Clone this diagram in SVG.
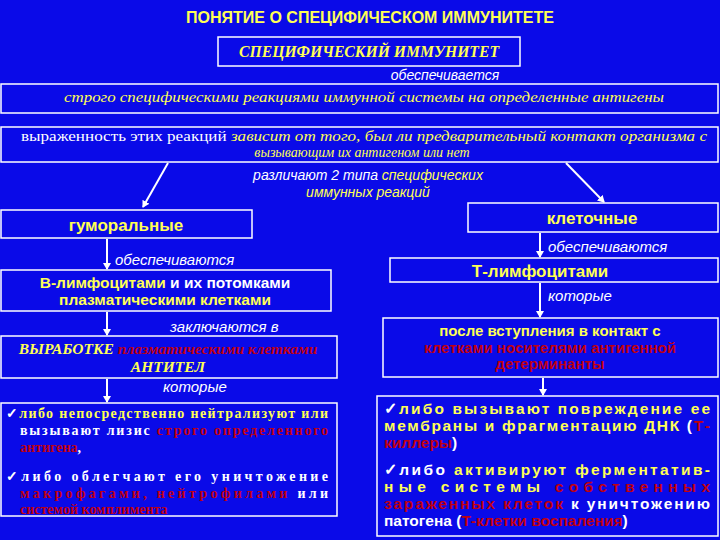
<svg xmlns="http://www.w3.org/2000/svg" width="720" height="540" viewBox="0 0 720 540">
<defs>
<marker id="ah" markerWidth="8" markerHeight="8" refX="6" refY="4" orient="auto" markerUnits="userSpaceOnUse"><path d="M0,0 L7,4 L0,8 Z" fill="#fff"/></marker>
<style>
.bx{fill:none;stroke:#fff;stroke-width:1.5}
.ln{stroke:#fff;stroke-width:2;fill:none;marker-end:url(#ah)}
.s{font-family:"Liberation Sans",Arial,sans-serif}
.r{font-family:"Liberation Serif","Times New Roman",serif}
.y{fill:#ffff55}.w{fill:#fff}.d{fill:#c00010}
.it{font-style:italic}.b{font-weight:bold}
</style>
</defs>
<rect width="720" height="540" fill="#0a0ae8"/>
<text class="s b y" x="370" y="23" font-size="16" text-anchor="middle">ПОНЯТИЕ О СПЕЦИФИЧЕСКОМ ИММУНИТЕТЕ</text>
<g id="n1"><rect class="bx" x="218" y="37" width="302" height="29"/><text class="r b it y" x="369" y="57" font-size="16" text-anchor="middle" textLength="260" lengthAdjust="spacingAndGlyphs">СПЕЦИФИЧЕСКИЙ ИММУНИТЕТ</text></g>
<text class="s it w" x="445" y="80" font-size="14" text-anchor="middle">обеспечивается</text>
<g id="n2"><rect class="bx" x="1" y="84" width="717" height="29"/><text class="r it y" x="364" y="102" font-size="15" text-anchor="middle" textLength="600" lengthAdjust="spacingAndGlyphs">строго специфическими реакциями иммунной системы на определенные антигены</text></g>
<g id="n3"><rect class="bx" x="1" y="127" width="717" height="35"/>
<text class="r" x="364" y="141" font-size="14" text-anchor="middle" textLength="686" lengthAdjust="spacingAndGlyphs"><tspan class="w">выраженность этих реакций </tspan><tspan class="y it">зависит от того, был ли предварительный контакт организма с</tspan></text>
<text class="r it y" x="362" y="157" font-size="14" text-anchor="middle">вызывающим их антигеном или нет</text></g>
<text class="s it" x="368" y="180" font-size="14" text-anchor="middle"><tspan class="w">различают 2 типа </tspan><tspan class="y">специфических</tspan></text>
<text class="s it y" x="368" y="197" font-size="14" text-anchor="middle">иммунных реакций</text>
<g id="n4"><rect class="bx" x="1" y="210" width="251" height="28"/><text class="s b y" x="126" y="231" font-size="17" text-anchor="middle">гуморальные</text></g>
<g id="n5"><rect class="bx" x="468" y="203" width="250" height="29"/><text class="s b y" x="592" y="224" font-size="17" text-anchor="middle">клеточные</text></g>
<text class="s it w" x="115" y="265" font-size="15">обеспечиваются</text>
<g id="n6"><rect class="bx" x="1" y="270" width="330" height="41"/>
<text class="s b" x="165" y="288" font-size="15.5" text-anchor="middle"><tspan class="y">В-лимфоцитами</tspan><tspan class="w"> и их потомками</tspan></text>
<text class="s b y" x="165" y="305" font-size="15.5" text-anchor="middle">плазматическими клетками</text></g>
<text class="s it w" x="170" y="332" font-size="15">заключаются в</text>
<g id="n7"><rect class="bx" x="1" y="336" width="336" height="42"/>
<text class="r b it" x="168" y="354" font-size="15.5" text-anchor="middle"><tspan class="y">ВЫРАБОТКЕ </tspan><tspan class="d">плазматическими клетками</tspan></text>
<text class="r b it y" x="168" y="372" font-size="15.5" text-anchor="middle">АНТИТЕЛ</text></g>
<text class="s it w" x="163" y="392" font-size="15">которые</text>
<g id="n8"><rect class="bx" x="1" y="403" width="336" height="113"/>
<g class="r b" font-size="14">
<text x="6" y="418" textLength="322" lengthAdjust="spacing"><tspan class="w">✓</tspan><tspan class="y">либо непосредственно нейтрализуют или</tspan></text>
<text x="20" y="435" textLength="308" lengthAdjust="spacing"><tspan class="w">вызывают лизис </tspan><tspan class="d">строго определенного</tspan></text>
<text x="20" y="452"><tspan class="d">антигена</tspan><tspan class="w">,</tspan></text>
<text x="6" y="481" textLength="322" lengthAdjust="spacing"><tspan class="w">✓</tspan><tspan class="w">либо облегчают его уничтожение</tspan></text>
<text x="20" y="498" textLength="308" lengthAdjust="spacing"><tspan class="d">макрофагами, нейтрофилами </tspan><tspan class="w">или</tspan></text>
<text x="20" y="514" class="d">системой комплимента</text>
</g></g>
<text class="s it w" x="548" y="252" font-size="15">обеспечиваются</text>
<g id="n9"><rect class="bx" x="390" y="258" width="328" height="24"/><text class="s b y" x="540" y="277" font-size="17" text-anchor="middle">Т-лимфоцитами</text></g>
<text class="s it w" x="548" y="301" font-size="15">которые</text>
<g id="n10"><rect class="bx" x="383" y="318" width="335" height="59"/>
<g class="s b" font-size="15" text-anchor="middle">
<text class="y" x="550" y="336">после вступления в контакт с</text>
<text class="d" x="550" y="353">клетками носителями антигенной</text>
<text class="d" x="550" y="369">детерминанты</text></g></g>
<g id="n11"><rect class="bx" x="377" y="396" width="341" height="140"/>
<g class="s b" font-size="15.5">
<text x="384" y="414" textLength="326" lengthAdjust="spacing"><tspan class="w">✓</tspan><tspan class="y">либо вызывают повреждение ее</tspan></text>
<text x="384" y="431" textLength="326" lengthAdjust="spacing"><tspan class="y">мембраны и фрагментацию ДНК </tspan><tspan class="w">(</tspan><tspan class="d">Т-</tspan></text>
<text x="384" y="448"><tspan class="d">киллеры</tspan><tspan class="w">)</tspan></text>
<text x="384" y="475" textLength="326" lengthAdjust="spacing"><tspan class="w">✓либо </tspan><tspan class="y">активируют ферментатив-</tspan></text>
<text x="384" y="492" textLength="326" lengthAdjust="spacing"><tspan class="y">ные системы </tspan><tspan class="d">собственных</tspan></text>
<text x="384" y="509" textLength="326" lengthAdjust="spacing"><tspan class="d">зараженных клеток </tspan><tspan class="w">к уничтожению</tspan></text>
<text x="384" y="526"><tspan class="w">патогена (</tspan><tspan class="d">Т-клетки воспаления</tspan><tspan class="w">)</tspan></text>
</g></g>
<g id="connectors">
<line class="ln" x1="168" y1="163" x2="143" y2="207"/>
<line class="ln" x1="566" y1="163" x2="604" y2="202"/>
<line class="ln" x1="107" y1="239" x2="107" y2="269"/>
<line class="ln" x1="107" y1="312" x2="107" y2="335"/>
<line class="ln" x1="107" y1="379" x2="107" y2="402"/>
<line class="ln" x1="540" y1="233" x2="540" y2="257"/>
<line class="ln" x1="540" y1="283" x2="540" y2="317"/>
<line class="ln" x1="543" y1="378" x2="543" y2="395"/>
</g>
</svg>
